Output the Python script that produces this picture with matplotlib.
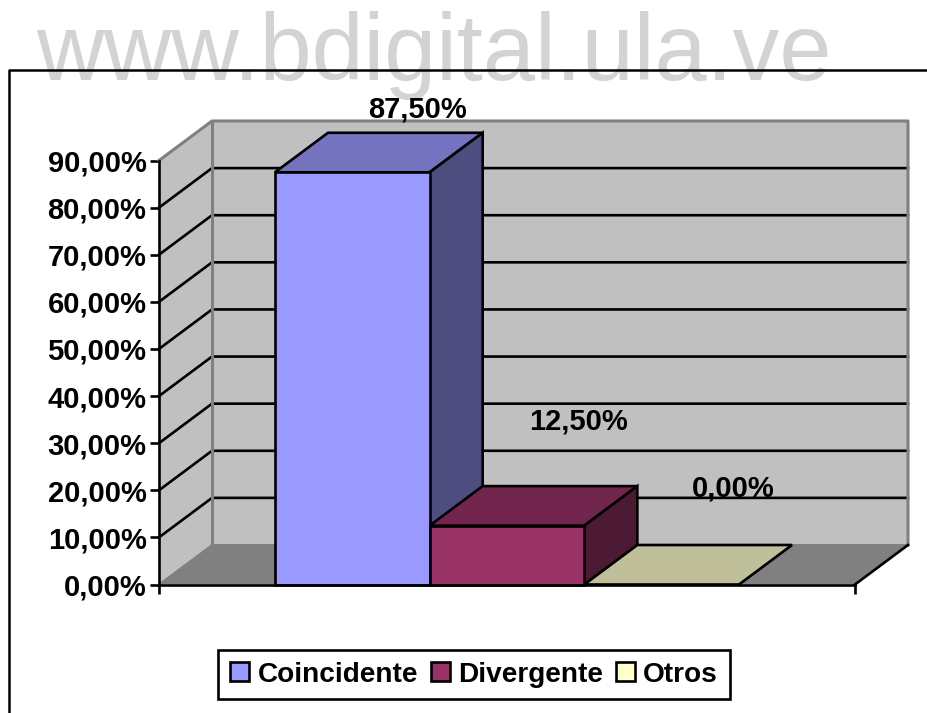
import matplotlib
matplotlib.use("Agg")
import matplotlib.pyplot as plt
from matplotlib.patches import Patch
from matplotlib.ticker import FuncFormatter

W, H = 927, 713
series = ["Coincidente", "Divergente", "Otros"]
values = [87.5, 12.5, 0.0]
value_labels = ["87,50%", "12,50%", "0,00%"]
front_colors = ["#9999FF", "#993366", "#FFFFCC"]
top_colors = ["#7373BF", "#73264D", "#BFBF99"]
side_colors = ["#4D4D80", "#4D1A33", "#80805F"]
y_ticks = [0, 10, 20, 30, 40, 50, 60, 70, 80, 90]
label_offsets_px = [(65, 63), (72, 104), (72, 96)]

plt.rcParams["font.family"] = ["Liberation Sans", "DejaVu Sans"]
fig = plt.figure(figsize=(W / 100, H / 100), dpi=100)
bg = fig.add_axes([0, 0, 1, 1], zorder=0)
bg.set_xlim(0, W); bg.set_ylim(H, 0); bg.axis("off")
bg.text(433.5, 80, "www.bdigital.ula.ve", fontsize=67.4, color="#D3D3D3",
        ha="center", va="baseline")
LW = 1.9
bg.plot([9.5, 9.5, W], [H, 70, 70], color="black", lw=1.8, zorder=3)

x0, x1, y0, y1 = 159, 855, 584.5, 160.5
ax = fig.add_axes([x0 / W, 1 - y0 / H, (x1 - x0) / W, (y0 - y1) / H], zorder=1)
ax.patch.set_alpha(0)
ax.set_xlim(0, 3)
ax.set_ylim(0, 90)
dx = 53 / (x1 - x0) * 3
dy = 39.5 / (y0 - y1) * 90

# walls and floor
kw = dict(clip_on=False)
ax.fill([dx, 3 + dx, 3 + dx, dx], [dy, dy, 90 + dy, 90 + dy], color="#C0C0C0", lw=0, zorder=1, **kw)
ax.fill([0, dx, dx, 0], [0, dy, 90 + dy, 90], color="#C0C0C0", lw=0, zorder=1, **kw)
ax.fill([0, 3, 3 + dx, dx], [0, 0, dy, dy], color="#808080", lw=0, zorder=1, **kw)
for v in y_ticks[1:-1]:
    ax.plot([0, dx, 3 + dx], [v, v + dy, v + dy], color="black", lw=LW, zorder=2, solid_joinstyle="miter", **kw)
wall = dict(color="#808080", lw=2.2, zorder=2.5, **kw)
ax.plot([0, dx, 3 + dx, 3 + dx], [90, 90 + dy, 90 + dy, dy], **wall)
ax.plot([dx, dx], [dy, 90 + dy], **wall)
ax.plot([0, dx, 3 + dx], [0, dy, dy], color="#808080", lw=1.4, zorder=2, **kw)
ax.plot([3, 3 + dx], [0, dy], color="black", lw=LW, zorder=2.6, **kw)

# bars: one category with three touching series, gap 50%
bw = 3 / 4.5
left = 1.5 - 1.5 * bw
edge = dict(edgecolor="black", linewidth=LW, joinstyle="miter")
for i, (v, f, t, s) in enumerate(zip(values, front_colors, top_colors, side_colors)):
    a, b = left + i * bw, left + (i + 1) * bw
    ax.fill([a, b, b + dx, a + dx], [v, v, v + dy, v + dy], facecolor=t, zorder=3 + i, clip_on=False, **edge)
    if v > 0:
        ax.fill([b, b + dx, b + dx, b], [0, dy, v + dy, v], facecolor=s, zorder=3 + i, clip_on=False, **edge)
        ax.bar(a, v, width=bw, align="edge", color=f, zorder=3 + i, clip_on=False, **edge)
    ox, oy = label_offsets_px[i]
    ax.annotate(value_labels[i], ((a + b) / 2, v), xytext=(ox * 0.72, oy * 0.72),
                textcoords="offset points", ha="center", va="center",
                fontsize=21, fontweight="bold", zorder=10, annotation_clip=False)

# axes
for s in ["top", "right"]:
    ax.spines[s].set_visible(False)
for s in ["left", "bottom"]:
    ax.spines[s].set_linewidth(LW)
    ax.spines[s].set_zorder(8)
ax.set_yticks(y_ticks)
ax.yaxis.set_major_formatter(FuncFormatter(lambda v, p: f"{v:.2f}%".replace(".", ",")))
ax.tick_params(axis="y", length=6.5, width=LW, labelsize=21, pad=2.5)
for t in ax.get_yticklabels():
    t.set_fontweight("bold")
ax.set_xticks([0, 3])
ax.set_xticklabels([])
ax.tick_params(axis="x", length=6.5, width=LW)

# legend
handles = [Patch(facecolor=c, edgecolor="black", linewidth=LW) for c in front_colors]
leg = fig.legend(handles, series, ncol=3, loc="center", bbox_to_anchor=(474 / W, 1 - 674.5 / H),
                 prop={"weight": "bold", "size": 20.2}, frameon=True, fancybox=False,
                 edgecolor="black", framealpha=1, handlelength=0.68, handleheight=0.68,
                 handletextpad=0.3, columnspacing=0.45, borderpad=0.42, borderaxespad=0)
leg.get_frame().set_linewidth(LW)
leg.set_zorder(5)

fig.savefig("out.png", dpi=100)
